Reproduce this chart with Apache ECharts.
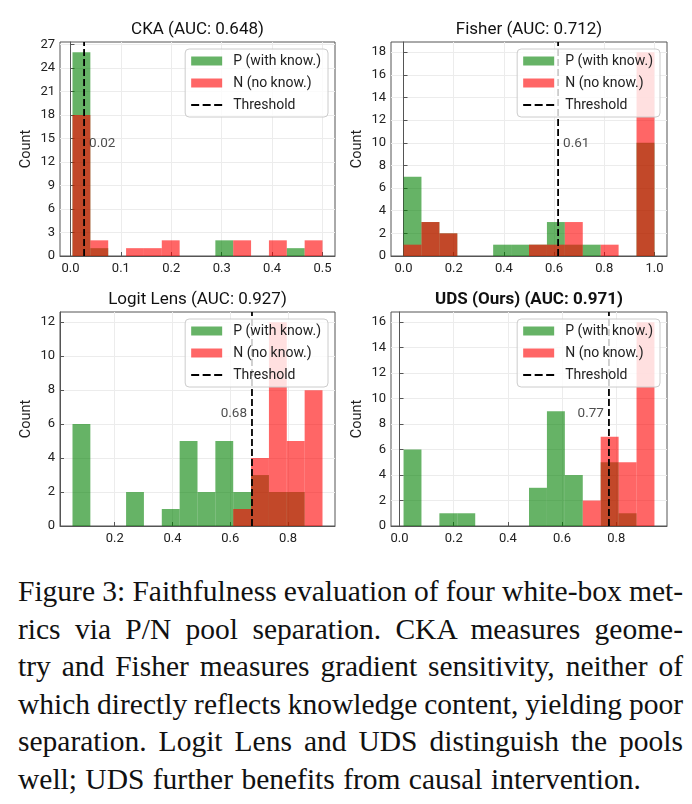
<!DOCTYPE html>
<html>
<head>
<meta charset="utf-8">
<title>Faithfulness evaluation: P/N pool separation</title>
<script src="https://cdn.jsdelivr.net/npm/echarts@6/dist/echarts.min.js"></script>
<style>
  body { margin: 0; background: #fff; }
  #chart { width: 692px; height: 560px; }
  #caption {
    position: absolute; left: 18px; top: 573px; width: 665px;
    font-family: "Liberation Serif", serif; font-size: 29.5px; line-height: 37.5px; color: #111;
    word-spacing: -2px;
  }
  #caption div { text-align: justify; text-align-last: justify; }
  #caption div.last { text-align: left; text-align-last: left; word-spacing: 1px; }
</style>
</head>
<body>
<div id="chart"></div>
<div id="caption">
  <div>Figure 3: Faithfulness evaluation of four white-box met-</div>
  <div>rics via P/N pool separation. CKA measures geome-</div>
  <div>try and Fisher measures gradient sensitivity, neither of</div>
  <div>which directly reflects knowledge content, yielding poor</div>
  <div>separation. Logit Lens and UDS distinguish the pools</div>
  <div class="last">well; UDS further benefits from causal intervention.</div>
</div>
<script>
// panel titles
const titles = ['CKA (AUC: 0.648)', 'Fisher (AUC: 0.712)', 'Logit Lens (AUC: 0.927)', 'UDS (Ours) (AUC: 0.971)'];

// histogram range (first / last bin edge), 14 bins each
const binLo = [0.004, 0.0, 0.054, 0.0148];
const binHi = [0.5, 1.0, 0.919, 0.941];
const nBins = 14;

// counts per bin, P = with knowledge, N = no knowledge
const ckaP = [26, 1, 0, 0, 0, 0, 0, 0, 2, 0, 0, 0, 1, 0];
const ckaN = [18, 2, 0, 1, 1, 2, 0, 0, 0, 2, 0, 2, 0, 2];
const fisherP = [7, 3, 2, 0, 0, 1, 1, 1, 3, 1, 1, 0, 0, 10];
const fisherN = [1, 3, 2, 0, 0, 0, 0, 1, 1, 3, 0, 1, 0, 18];
const logitP = [6, 0, 0, 2, 0, 1, 5, 2, 5, 2, 3, 2, 2, 0];
const logitN = [0, 0, 0, 0, 0, 0, 0, 0, 0, 1, 4, 12, 5, 8];
const udsP = [6, 0, 1, 1, 0, 0, 0, 3, 9, 4, 0, 5, 1, 0];
const udsN = [0, 0, 0, 0, 0, 0, 0, 0, 0, 0, 2, 7, 5, 16];

// decision thresholds and their printed labels
const thresholds = [0.027, 0.616, 0.675, 0.773];
const thresholdLabels = ['0.02', '0.61', '0.68', '0.77'];

// tick values
const xTicks = [
  [0, 0.1, 0.2, 0.3, 0.4, 0.5],
  [0, 0.2, 0.4, 0.6, 0.8, 1.0],
  [0.2, 0.4, 0.6, 0.8],
  [0, 0.2, 0.4, 0.6, 0.8]
];
const yTicks = [
  [0, 3, 6, 9, 12, 15, 18, 21, 24, 27],
  [0, 2, 4, 6, 8, 10, 12, 14, 16, 18],
  [0, 2, 4, 6, 8, 10, 12],
  [0, 2, 4, 6, 8, 10, 12, 14, 16]
];

const posCounts = [ckaP, fisherP, logitP, udsP];
const negCounts = [ckaN, fisherN, logitN, udsN];

// layout
const W = 692;
const grids = [
  { left: 60, top: 42, width: 275, height: 214 },
  { left: 391, top: 42, width: 276, height: 214 },
  { left: 60, top: 312, width: 275, height: 214 },
  { left: 391, top: 312, width: 276, height: 214 }
];
const labelSide = ['right', 'right', 'left', 'left'];
const P_COLOR = 'rgba(0,128,0,0.6)';
const N_COLOR = 'rgba(255,0,0,0.6)';
const FONT = 'Roboto';
const DASH_ICON = 'path://M0,0h8v2h-8zM11.5,0h8v2h-8zM23,0h8v2h-8z';

function binData(i, counts) {
  const w = (binHi[i] - binLo[i]) / nBins;
  return counts.map((c, k) => [binLo[i] + k * w, binLo[i] + (k + 1) * w, c]);
}

function renderBin(params, api) {
  if (!api.value(2)) return null;
  const a = api.coord([api.value(0), api.value(2)]);
  const b = api.coord([api.value(1), 0]);
  return {
    type: 'rect',
    shape: { x: a[0], y: a[1], width: b[0] - a[0], height: b[1] - a[1] },
    style: { fill: api.visual('color') }
  };
}

const xAxes = [], yAxes = [], series = [], legends = [], graphics = [];

grids.forEach((g, i) => {
  const span = binHi[i] - binLo[i];
  const yMax = Math.max(...posCounts[i], ...negCounts[i]) * 1.05;
  xAxes.push({
    type: 'value', gridIndex: i,
    min: binLo[i] - 0.05 * span, max: binHi[i] + 0.05 * span,
    axisLine: { lineStyle: { color: '#555' } },
    axisTick: { inside: true, length: 4, customValues: xTicks[i], lineStyle: { color: '#555' } },
    axisLabel: { customValues: xTicks[i], formatter: v => v.toFixed(1), fontSize: 13, color: '#222', margin: 6, fontFamily: FONT },
    splitLine: { show: true, lineStyle: { color: '#ececec' } }
  });
  yAxes.push({
    type: 'value', gridIndex: i, min: 0, max: yMax,
    name: 'Count', nameLocation: 'middle', nameGap: 26,
    nameTextStyle: { fontSize: 14.5, color: '#222', fontFamily: FONT },
    axisLine: { show: true, lineStyle: { color: '#555' } },
    axisTick: { show: true, inside: true, length: 4, customValues: yTicks[i], lineStyle: { color: '#555' } },
    axisLabel: { customValues: yTicks[i], fontSize: 13, color: '#222', margin: 5, fontFamily: FONT },
    splitLine: { show: true, lineStyle: { color: '#ececec' } }
  });
  series.push({
    name: 'P (with know.)', type: 'custom', xAxisIndex: i, yAxisIndex: i,
    itemStyle: { color: P_COLOR }, renderItem: renderBin,
    encode: { x: [0, 1], y: 2 }, data: binData(i, posCounts[i]), z: 2
  });
  series.push({
    name: 'N (no know.)', type: 'custom', xAxisIndex: i, yAxisIndex: i,
    itemStyle: { color: N_COLOR }, renderItem: renderBin,
    encode: { x: [0, 1], y: 2 }, data: binData(i, negCounts[i]), z: 2
  });
  series.push({
    name: 'Threshold', type: 'line', xAxisIndex: i, yAxisIndex: i,
    data: [[thresholds[i], 0], [thresholds[i], yMax]],
    symbol: 'none', silent: true, z: 2,
    lineStyle: { color: '#000', width: 1.8, type: [7, 3] },
    itemStyle: { color: '#000' }
  });
  series.push({
    name: 'label' + i, type: 'scatter', xAxisIndex: i, yAxisIndex: i,
    data: [[thresholds[i], yMax * 0.525]], symbolSize: 0, silent: true, z: 2,
    label: {
      show: true, position: labelSide[i], distance: 5,
      formatter: thresholdLabels[i], fontSize: 13.5, color: '#222', fontFamily: FONT
    }
  });
  legends.push({
    z: 10,
    orient: 'vertical', right: W - (g.left + g.width - 7), top: g.top + 7,
    data: [
      { name: 'P (with know.)', icon: 'rect' },
      { name: 'N (no know.)', icon: 'rect' },
      { name: 'Threshold', icon: DASH_ICON }
    ],
    itemWidth: 31, itemHeight: 9, itemGap: 8,
    padding: [5, 7, 5, 6],
    backgroundColor: 'rgba(255,255,255,0.8)', borderColor: '#ccc', borderWidth: 1, borderRadius: 4,
    textStyle: { fontSize: 14, color: '#222', fontFamily: FONT, padding: [0, 0, 0, 6] },
    selectedMode: false
  });
  graphics.push({
    type: 'text', x: g.left + g.width / 2, y: g.top - 12,
    style: {
      text: titles[i], fill: '#111',
      font: (i === 3 ? 'bold ' : '') + '17px ' + FONT,
      align: 'center', verticalAlign: 'middle', textAlign: 'center', textVerticalAlign: 'middle'
    }
  });
});

const chart = echarts.init(document.getElementById('chart'), null, { renderer: 'canvas' });
chart.setOption({
  animation: false,
  backgroundColor: '#fff',
  textStyle: { fontFamily: FONT },
  grid: grids.map(g => Object.assign({ show: true, borderColor: '#555', borderWidth: 1, backgroundColor: 'transparent' }, g)),
  xAxis: xAxes,
  yAxis: yAxes,
  legend: legends,
  graphic: graphics,
  series: series
});
</script>
</body>
</html>
